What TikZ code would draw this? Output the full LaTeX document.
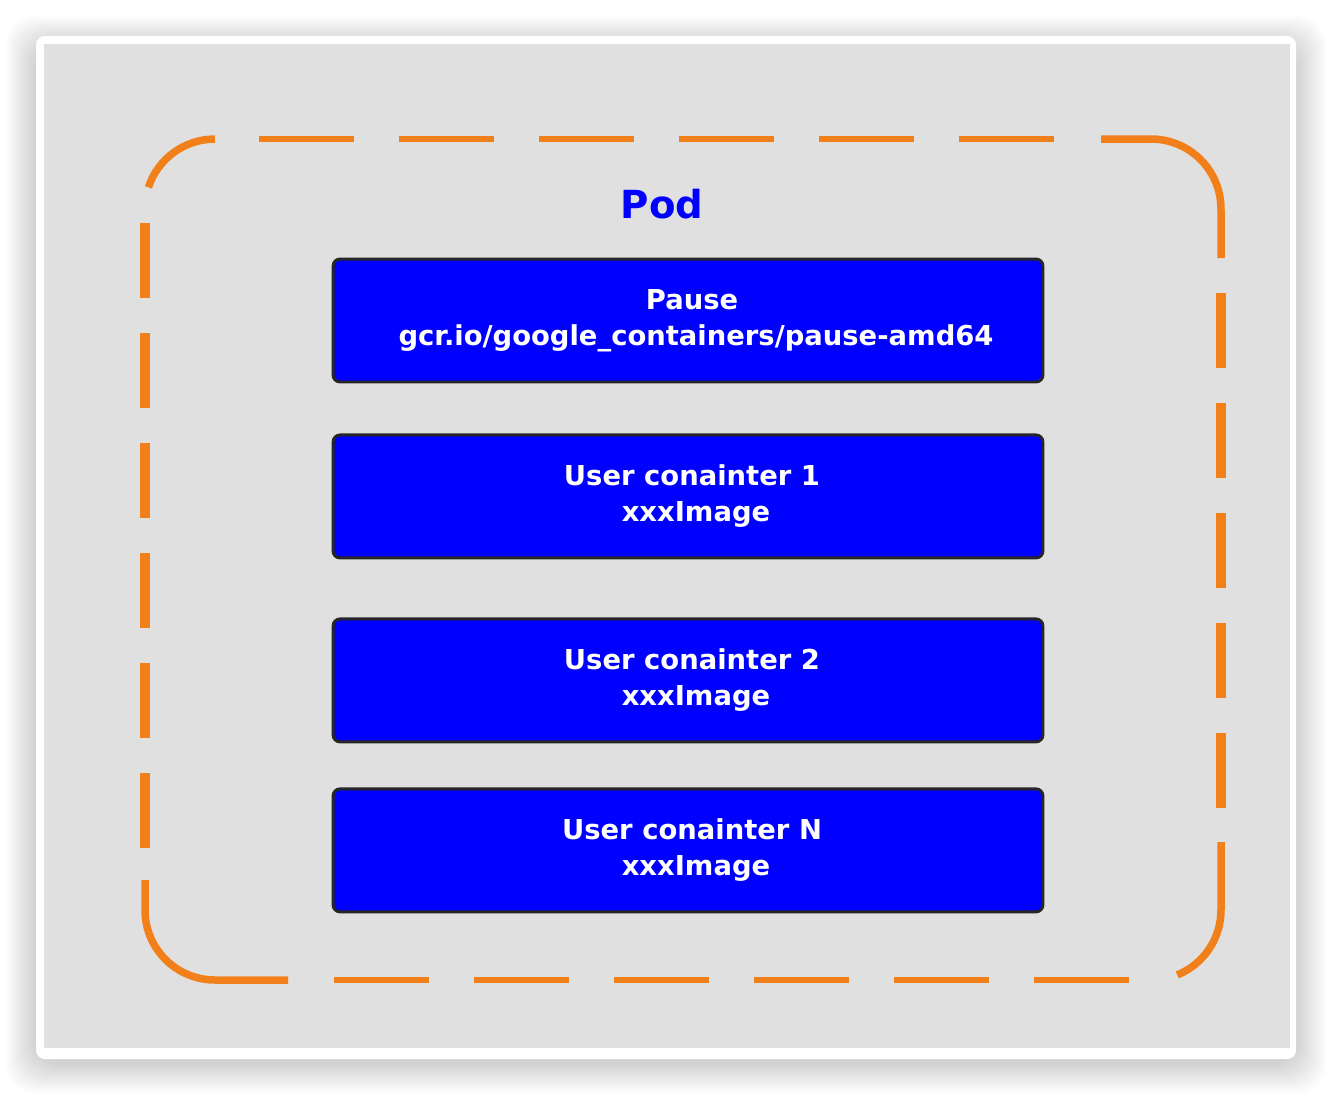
\documentclass[tikz,border=0pt]{standalone}
\usepackage{fontspec}
\setmainfont{DejaVu Sans}
\usetikzlibrary{positioning}
\definecolor{podorange}{HTML}{F2801A}
\definecolor{boxblue}{HTML}{0000FF}
\definecolor{panelgray}{HTML}{E0E0E0}
\begin{document}
\begin{tikzpicture}[
    x=0.02cm, y=-0.02cm,
    container/.style={
        rectangle,
        draw=black!85,
        line width=1.7pt,
        fill=boxblue,
        rounded corners=4pt,
        minimum width=14.2cm,
        minimum height=2.46cm,
        text=white,
        align=center,
        font=\bfseries\fontsize{15.6}{20.5}\selectfont,
        execute at begin node={\hspace*{0.16cm}}
    },
    podline/.style={
        draw=podorange,
        line width=0.15cm
    },
    hdash/.style={
        draw=podorange,
        line width=0.134cm
    },
    vdash/.style={
        draw=podorange,
        line width=0.186cm
    },
    title/.style={
        text=boxblue,
        font=\bfseries\fontsize{22}{26}\selectfont
    }
]
\useasboundingbox (0,0) rectangle (1332,1096);

% shadow and panel
\foreach \s in {2,4,...,30}
    \fill[black, opacity=0.01, rounded corners=16pt] (36-\s,36-\s+10) rectangle (1296+\s,1059+\s+4);
\fill[white, rounded corners=5pt] (36,36) rectangle (1296,1059);
\fill[panelgray] (44,44) rectangle (1290,1048);

% pod frame (dashed, rounded)
\draw[podline] (148.4,187.4) arc[start angle=162, end angle=90, radius=1.4cm];
\draw[podline] (1101,139) -- (1151,139) arc[start angle=90, end angle=0, radius=1.4cm] -- (1221,258);
\draw[podline] (1221,842) -- (1221,910) arc[start angle=0, end angle=-68, radius=1.4cm];
\draw[podline] (288,980) -- (215,980) arc[start angle=270, end angle=180, radius=1.4cm] -- (145,880);
\foreach \x in {259,399,...,960}
    \draw[hdash] (\x,139) -- ++(95,0);
\foreach \x in {334,474,...,1035}
    \draw[hdash] (\x,980) -- ++(95,0);
\foreach \y in {223,333,...,774}
    \draw[vdash] (145,\y) -- ++(0,75);
\foreach \y in {293,403,...,734}
    \draw[vdash] (1221,\y) -- ++(0,75);

\node[title] (podlabel) at (662,204) {Pod};

% containers
\node[container] (pause) at (688,320.5) {Pause\\\hspace*{0.16cm}gcr.io/google\_containers/pause-amd64};
\node[container, below=1.0cm of pause] (user1) {User conainter 1\\\hspace*{0.16cm}xxxImage};
\node[container, below=1.16cm of user1] (user2) {User conainter 2\\\hspace*{0.16cm}xxxImage};
\node[container, below=0.88cm of user2] (userN) {User conainter N\\\hspace*{0.16cm}xxxImage};

\end{tikzpicture}
\end{document}
